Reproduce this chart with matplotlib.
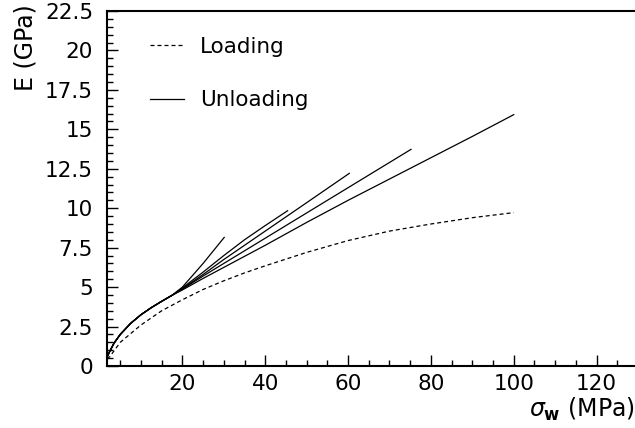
import matplotlib
matplotlib.use("Agg")
import matplotlib.pyplot as plt
from matplotlib.ticker import MultipleLocator

plt.rcParams['font.family'] = ['DejaVu Sans']

# loading curve
load_s = [1.8, 2.5, 5, 10, 15, 20, 25, 30, 35, 40, 50, 60, 70, 80, 90, 100]
load_E = [0.45, 0.6, 1.5, 2.6, 3.5, 4.2, 4.85, 5.4, 5.9, 6.35, 7.2, 7.95, 8.55, 9.0, 9.4, 9.72]

# common start of the unloading curves
trunk_s = [1.8, 2.5, 3.5, 5, 7.5, 10, 12.5, 15, 17.5]
trunk_E = [0.55, 0.95, 1.45, 2.0, 2.7, 3.25, 3.7, 4.1, 4.48]

# unloading branches (from sigma = 20 onwards)
unl_s = {
    30: [20, 25, 30.1],
    45: [20, 25, 30, 35, 40, 45.4],
    60: [20, 25, 30, 35, 40, 50, 60.3],
    75: [20, 25, 30, 35, 40, 50, 60, 75.2],
    100: [20, 25, 30, 35, 40, 50, 60, 70, 80, 90, 100],
}
unl_E = {
    30: [5.0, 6.5, 8.15],
    45: [4.95, 5.95, 7.0, 8.0, 8.9, 9.84],
    60: [4.9, 5.8, 6.75, 7.65, 8.55, 10.35, 12.21],
    75: [4.87, 5.7, 6.5, 7.3, 8.1, 9.7, 11.3, 13.73],
    100: [4.82, 5.55, 6.25, 6.95, 7.65, 9.1, 10.5, 11.85, 13.2, 14.55, 15.93],
}

fig = plt.figure(figsize=(6.35, 4.28), dpi=100)
ax = fig.add_axes([107/635, 62/428, 531/635, 355/428])

ax.plot(load_s, load_E, color='black', lw=0.9, ls=(0, (3.2, 2.4)), label='Loading')
first = True
for k in unl_s:
    xs = trunk_s + unl_s[k]
    ys = trunk_E + unl_E[k]
    ax.plot(xs, ys, color='black', lw=0.9, label='Unloading' if first else None)
    first = False

ax.set_xlim(1.8, 130)
ax.set_ylim(0, 22.5)
ax.xaxis.set_major_locator(MultipleLocator(20))
ax.xaxis.set_minor_locator(MultipleLocator(5))
ax.yaxis.set_major_locator(MultipleLocator(2.5))
ax.yaxis.set_minor_locator(MultipleLocator(0.5))
ax.set_yticks([0, 2.5, 5, 7.5, 10, 12.5, 15, 17.5, 20, 22.5])
ax.set_yticklabels(['0', '2.5', '5', '7.5', '10', '12.5', '15', '17.5', '20', '22.5'])
ax.set_xticks([20, 40, 60, 80, 100, 120])

ax.tick_params(which='both', direction='in', top=False, right=False,
               labelsize=15.5, width=1.0, colors='black')
ax.tick_params(which='major', length=8)
ax.tick_params(which='minor', length=4.5)
ax.tick_params(axis='y', which='major', pad=10)
ax.tick_params(axis='x', which='major', pad=6)
for sp in ax.spines.values():
    sp.set_linewidth(1.5)

ax.set_ylabel('E (GPa)', fontsize=17, loc='top')
ax.yaxis.set_label_coords(-0.13, 1.02)
ax.set_xlabel(r'$\sigma_{\mathbf{w}}$ (MPa)', fontsize=17, loc='right')
ax.xaxis.set_label_coords(0.995, -0.085)

ax.legend(loc='upper left', bbox_to_anchor=(0.044, 0.982), frameon=False,
          fontsize=15.5, handlelength=1.6, handletextpad=0.75, labelspacing=1.55)

fig.savefig('out.png', dpi=100)
